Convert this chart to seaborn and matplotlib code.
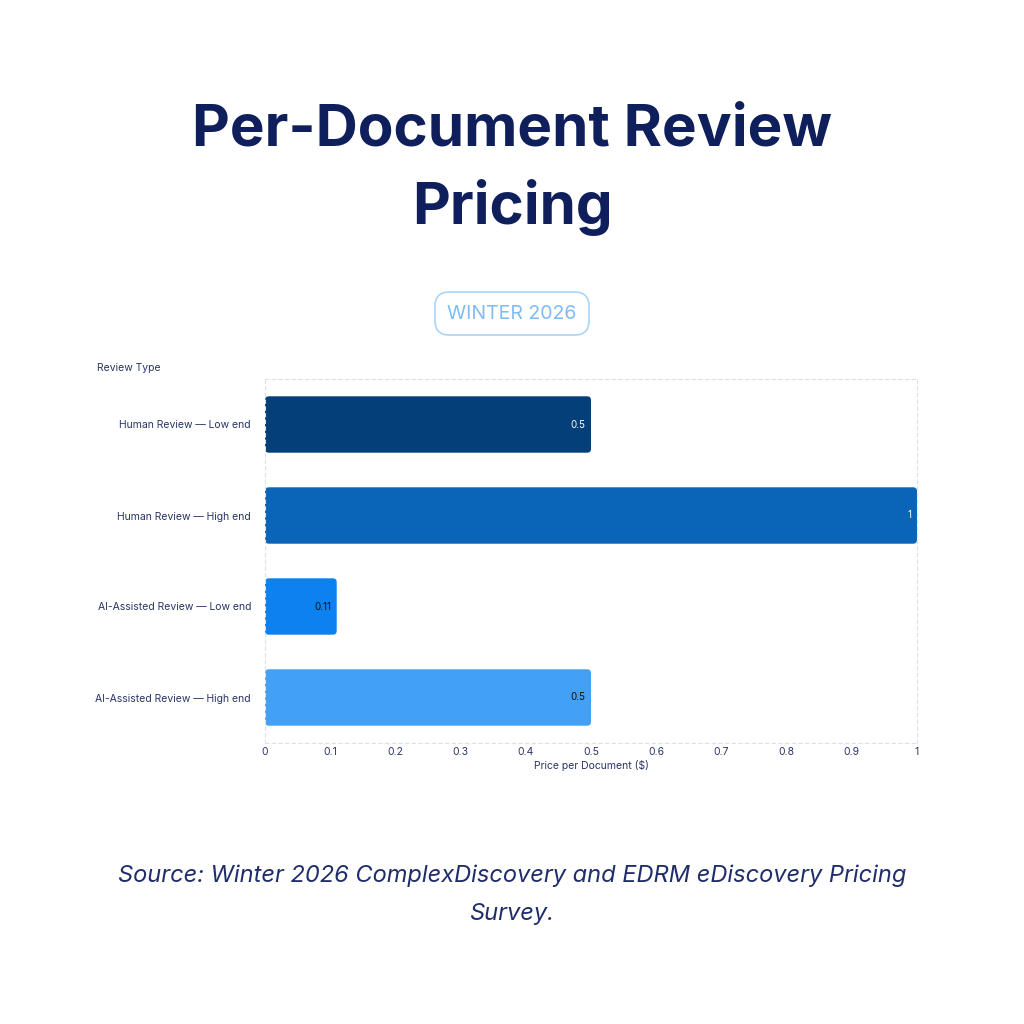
import numpy as np
import pandas as pd
import matplotlib.pyplot as plt
import seaborn as sns
from matplotlib.patches import FancyBboxPatch

# Data
review_types = ['Human Review — Low end', 'Human Review — High end',
                'AI-Assisted Review — Low end', 'AI-Assisted Review — High end']
prices = [0.5, 1.0, 0.11, 0.5]
value_labels = ['0.5', '1', '0.11', '0.5']
bar_colors = ['#053F7A', '#0A64B8', '#0C82F0', '#42A0F5']
label_colors = ['white', 'white', '#111111', '#111111']
x_ticks = [0, 0.1, 0.2, 0.3, 0.4, 0.5, 0.6, 0.7, 0.8, 0.9, 1]
x_ticklabels = ['0', '0.1', '0.2', '0.3', '0.4', '0.5', '0.6', '0.7', '0.8', '0.9', '1']

df = pd.DataFrame({'Review Type': review_types, 'Price': prices})

sns.set_theme(style='white')
plt.rcParams['font.family'] = ['Inter', 'DejaVu Sans']

navy = '#0F1F5C'
text_col = '#2A3566'

fig = plt.figure(figsize=(10.24, 10.24), dpi=100)
ax = fig.add_axes([265 / 1024, 1 - 743 / 1024, 652 / 1024, 364 / 1024])

sns.barplot(data=df, y='Review Type', x='Price', hue='Review Type',
            palette=bar_colors, legend=False, width=0.62, ax=ax)

# swap plain bars for slightly rounded ones
for patch, col in zip(list(ax.patches), bar_colors):
    x0, y0 = patch.get_x(), patch.get_y()
    w, h = patch.get_width(), patch.get_height()
    patch.remove()
    r = 0.006
    ax.add_patch(FancyBboxPatch((x0 + r, y0 + r * 7.2), w - 2 * r, h - 2 * r * 7.2,
                                boxstyle=f'round,pad={r},rounding_size={r}',
                                mutation_aspect=7.2, facecolor=col,
                                edgecolor='none'))

for i, (v, lab, lc) in enumerate(zip(prices, value_labels, label_colors)):
    ax.text(v - 0.008, i, lab, ha='right', va='center', fontsize=7, color=lc)

ax.set_xlim(0, 1)
ax.set_ylim(3.5, -0.5)
ax.set_xticks(x_ticks)
ax.set_xticklabels(x_ticklabels, fontsize=7.5, color=text_col)
ax.tick_params(axis='x', length=0, pad=3)
ax.tick_params(axis='y', length=7, width=0.6, color='#D8DCE4', labelsize=7.5,
               labelcolor=text_col, pad=3)
for t in ax.yaxis.get_ticklines():
    t.set_linestyle((0, (2, 2)))
ax.set_xlabel('Price per Document ($)', fontsize=7.5, color=text_col, labelpad=2)
ax.set_ylabel('')
for s in ax.spines.values():
    s.set_color('#DDE0E6')
    s.set_linestyle((0, (3, 3)))
    s.set_linewidth(0.8)

fig.text(97 / 1024, 1 - 368 / 1024, 'Review Type', fontsize=7.5, color=text_col,
         ha='left', va='center')

# Title
fig.text(0.5, 1 - 131 / 1024, 'Per-Document Review', fontsize=42, fontweight='bold',
         color=navy, ha='center', va='center')
fig.text(0.5, 1 - 208 / 1024, 'Pricing', fontsize=42, fontweight='bold',
         color=navy, ha='center', va='center')

# pill badge
fig.patches.append(FancyBboxPatch((435 / 1024, 1 - 335 / 1024), 154 / 1024, 43 / 1024,
                                  boxstyle='round,pad=0,rounding_size=0.014',
                                  transform=fig.transFigure, facecolor='white',
                                  edgecolor='#A9D3FA', linewidth=1.2))
fig.text(0.5, 1 - 314 / 1024, 'WINTER 2026', fontsize=14, color='#7DBCF6',
         ha='center', va='center')

# Source
fig.text(0.5, 1 - 876 / 1024, 'Source: Winter 2026 ComplexDiscovery and EDRM eDiscovery Pricing',
         fontsize=17, style='italic', color='#1F2D6B', ha='center', va='center')
fig.text(0.5, 1 - 914 / 1024, 'Survey.', fontsize=17, style='italic', color='#1F2D6B',
         ha='center', va='center')

fig.savefig('out.png', dpi=100, facecolor='white')
